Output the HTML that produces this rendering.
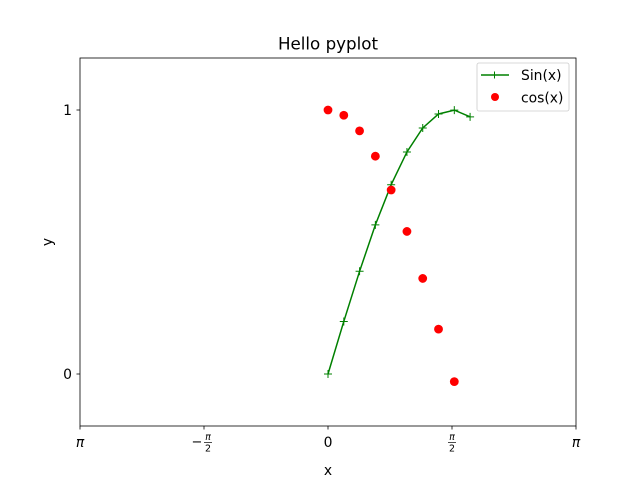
<!DOCTYPE html>
<html><head><meta charset="utf-8"><style>
body{margin:0;background:#fff;font-family:"DejaVu Sans","Liberation Sans",sans-serif;}
svg text{font-family:"DejaVu Sans","Liberation Sans",sans-serif;}
</style></head><body>
<svg id="chart" width="640" height="480" xmlns="http://www.w3.org/2000/svg">
<rect width="640" height="480" fill="#fff"/>
<text x="328" y="49.5" font-size="16.7" text-anchor="middle">Hello pyplot</text>
<g id="plot"></g>
<rect x="80" y="58" width="496" height="368" fill="none" stroke="#000" stroke-width="0.8"/>
<g id="xticks"></g><g id="yticks"></g>
<text x="328" y="475" font-size="13.9" text-anchor="middle">x</text>
<text x="52" y="242" font-size="13.9" text-anchor="middle" transform="rotate(-90 52 242)">y</text>
<g>
<rect x="477" y="63" width="92" height="48" rx="2" fill="#fff" fill-opacity="0.8" stroke="#ccc" stroke-width="0.8"/>
<line x1="481" y1="75" x2="509" y2="75" stroke="green" stroke-width="1.5"/>
<path d="M491,75h7M494.5,71.5v7" stroke="green" stroke-width="1"/>
<text x="521" y="80" font-size="13.9">Sin(x)</text>
<circle cx="495" cy="97" r="4" fill="red"/>
<text x="521" y="102.5" font-size="13.9">cos(x)</text>
</g>
</svg>
<script>
const xs=[0,0.2,0.4,0.6,0.8,1.0,1.2,1.4,1.6,1.8];
const sinVals=[0,0.199,0.389,0.565,0.717,0.841,0.932,0.985,0.9996,0.974];
const cosXs=[0,0.2,0.4,0.6,0.8,1.0,1.2,1.4,1.6];
const cosVals=[1,0.980,0.921,0.825,0.697,0.540,0.362,0.170,-0.029];
const xTickVals=[-Math.PI,-Math.PI/2,0,Math.PI/2,Math.PI];
const xTickLabels=["π","−π/2","0","π/2","π"];
const yTickVals=[0,1];
const yTickLabels=["0","1"];
const NS="http://www.w3.org/2000/svg";
const X=v=>80+(v+Math.PI)/(2*Math.PI)*496;
const Y=v=>374-v*264;
function mk(t,a,p){const e=document.createElementNS(NS,t);for(const k in a)e.setAttribute(k,a[k]);p.appendChild(e);return e;}
const plot=document.getElementById('plot');
const line=mk('polyline',{points:xs.map((x,i)=>X(x)+','+Y(sinVals[i])).join(' '),fill:'none',stroke:'green','stroke-width':1.5},plot);


xs.forEach((x,i)=>{const cx=X(x),cy=Y(sinVals[i]);
const m=mk('path',{d:`M${cx-4},${cy}h8M${cx},${cy-4}v8`,stroke:'green','stroke-width':1},plot);

});
cosXs.forEach((x,i)=>{const c=mk('circle',{cx:X(x),cy:Y(cosVals[i]),r:4.4,fill:'red'},plot);

});
const xt=document.getElementById('xticks');
xTickVals.forEach((v,i)=>{const x=X(v);mk('line',{x1:x,y1:426,x2:x,y2:429.5,stroke:'#000','stroke-width':0.8},xt);
const lab=xTickLabels[i];let t;
if(lab.includes('/')){const neg=lab.startsWith('−');
t=mk('g',{},xt);
if(neg)mk('text',{x:x-7,y:446,'font-size':13,'text-anchor':'middle'},t).textContent='−';
mk('text',{x:neg?x+4:x,y:440,'font-size':9.5,'text-anchor':'middle','font-style':'italic'},t).textContent='π';
mk('line',{x1:neg?x:x-4,y1:442.5,x2:neg?x+8:x+4,y2:442.5,stroke:'#000','stroke-width':0.7},t);
mk('text',{x:neg?x+4:x,y:451.5,'font-size':9.5,'text-anchor':'middle'},t).textContent='2';
}else{t=mk('text',{x:x,y:447,'font-size':13.9,'text-anchor':'middle','font-style':lab==='π'?'italic':'normal'},xt);t.textContent=lab;}

});
const yt=document.getElementById('yticks');
yTickVals.forEach((v,i)=>{const y=Y(v);mk('line',{x1:76.5,y1:y,x2:80,y2:y,stroke:'#000','stroke-width':0.8},yt);
const t=mk('text',{x:72,y:y+5,'font-size':13.9,'text-anchor':'end'},yt);t.textContent=yTickLabels[i];

});
</script>
</body></html>
